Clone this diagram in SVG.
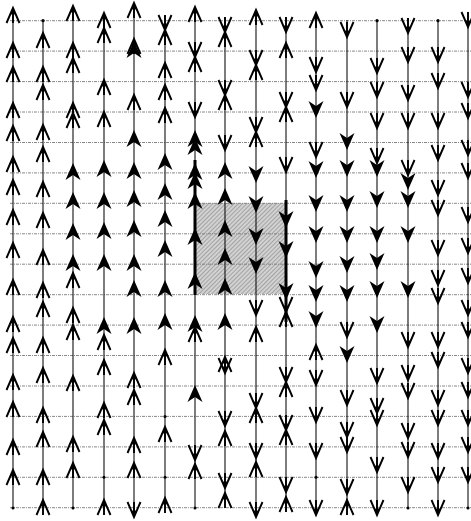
<svg xmlns="http://www.w3.org/2000/svg" xmlns:xlink="http://www.w3.org/1999/xlink" width="471" height="521" viewBox="0 0 471 521">
<style>
.h{stroke:#7a7a7a;stroke-width:0.9;stroke-dasharray:3 1 1 1;fill:none}
.v{stroke:#111;stroke-width:1.1;fill:none}
.t{stroke:#000;stroke-width:3;fill:none}
.d{fill:#000}
</style>
<defs>
<g id="ou"><path d="M-6.5,15 L0,0 L6.5,15 M0,0 L0,15" fill="none" stroke="#000" stroke-width="1.9"/><path d="M0,0 L2.6,7 L0,5.5 L-2.6,7 Z" fill="#000"/></g>
<g id="od"><path d="M-6.5,-15 L0,0 L6.5,-15 M0,0 L0,-15" fill="none" stroke="#000" stroke-width="1.9"/><path d="M0,0 L2.6,-7 L0,-5.5 L-2.6,-7 Z" fill="#000"/></g>
<path id="fu" d="M0,0 L7.5,17 L0,12 L-7.5,17 Z" fill="#000"/>
<path id="fd" d="M0,0 L7.5,-17 L0,-12 L-7.5,-17 Z" fill="#000"/>
<pattern id="hatch" width="3" height="3" patternUnits="userSpaceOnUse" patternTransform="rotate(45)">
<rect width="3" height="3" fill="#d2d2d2"/>
<line x1="0" y1="0" x2="0" y2="3" stroke="#8a8a8a" stroke-width="1.3"/>
</pattern>
</defs>
<rect width="471" height="521" fill="#fff"/>
<rect id="region" x="196" y="203" width="90" height="91" fill="url(#hatch)"/>
<g id="grid">
<line class="h" x1="10" y1="20.7" x2="471" y2="20.7"/>
<line class="h" x1="10" y1="51.1" x2="471" y2="51.1"/>
<line class="h" x1="10" y1="81.6" x2="471" y2="81.6"/>
<line class="h" x1="10" y1="112" x2="471" y2="112"/>
<line class="h" x1="10" y1="142.5" x2="471" y2="142.5"/>
<line class="h" x1="10" y1="172.9" x2="471" y2="172.9"/>
<line class="h" x1="10" y1="203.3" x2="471" y2="203.3"/>
<line class="h" x1="10" y1="233.8" x2="471" y2="233.8"/>
<line class="h" x1="10" y1="264.2" x2="471" y2="264.2"/>
<line class="h" x1="10" y1="294.7" x2="471" y2="294.7"/>
<line class="h" x1="10" y1="325.1" x2="471" y2="325.1"/>
<line class="h" x1="10" y1="355.5" x2="471" y2="355.5"/>
<line class="h" x1="10" y1="386" x2="471" y2="386"/>
<line class="h" x1="10" y1="416.4" x2="471" y2="416.4"/>
<line class="h" x1="10" y1="446.9" x2="471" y2="446.9"/>
<line class="h" x1="10" y1="477.3" x2="471" y2="477.3"/>
<line class="h" x1="10" y1="507.7" x2="471" y2="507.7"/>
</g>
<g id="connectors">
<line class="v" x1="13" y1="8" x2="13" y2="508"/>
<line class="v" x1="43" y1="20" x2="43" y2="508"/>
<line class="v" x1="73" y1="6" x2="73" y2="508"/>
<line class="v" x1="104" y1="13" x2="104" y2="508"/>
<line class="v" x1="134" y1="3" x2="134" y2="517"/>
<line class="v" x1="165" y1="16" x2="165" y2="508"/>
<line class="v" x1="195" y1="7" x2="195" y2="508"/>
<line class="v" x1="225" y1="17" x2="225" y2="505"/>
<line class="v" x1="256" y1="10" x2="256" y2="517"/>
<line class="v" x1="286" y1="17" x2="286" y2="510"/>
<line class="v" x1="316" y1="13" x2="316" y2="515"/>
<line class="v" x1="347" y1="20" x2="347" y2="508"/>
<line class="v" x1="377" y1="20" x2="377" y2="515"/>
<line class="v" x1="408" y1="18" x2="408" y2="508"/>
<line class="v" x1="438" y1="20" x2="438" y2="515"/>
<line class="v" x1="468" y1="12" x2="468" y2="508"/>
<line class="t" x1="195" y1="160" x2="195" y2="295"/>
<line class="t" x1="286" y1="200" x2="286" y2="322"/>
</g>
<g id="col1">
<use href="#ou" x="13" y="8"/><use href="#ou" x="13" y="43"/><use href="#ou" x="13" y="67"/><use href="#ou" x="13" y="103"/><use href="#ou" x="13" y="126"/><use href="#ou" x="13" y="157"/><use href="#ou" x="13" y="180"/><use href="#ou" x="13" y="210"/><use href="#ou" x="13" y="243"/><use href="#ou" x="13" y="280"/><use href="#ou" x="13" y="317"/><use href="#ou" x="13" y="338"/><use href="#ou" x="13" y="375"/><use href="#ou" x="13" y="402"/><use href="#ou" x="13" y="440"/><use href="#ou" x="13" y="470"/>
<circle class="d" cx="13" cy="508" r="1.5"/>
</g>
<g id="col2">
<circle class="d" cx="43" cy="20.7" r="1.6"/>
<use href="#ou" x="43" y="33"/><use href="#ou" x="43" y="67"/><use href="#ou" x="43" y="85"/><use href="#ou" x="43" y="125"/><use href="#ou" x="43" y="147"/><use href="#ou" x="43" y="182"/><use href="#ou" x="43" y="213"/><use href="#ou" x="43" y="250"/><use href="#ou" x="43" y="283"/><use href="#ou" x="43" y="302"/><use href="#ou" x="43" y="338"/><use href="#ou" x="43" y="368"/><use href="#ou" x="43" y="408"/><use href="#ou" x="43" y="432"/><use href="#ou" x="43" y="470"/><use href="#ou" x="43" y="500"/>
</g>
<g id="col3">
<use href="#ou" x="73" y="6"/><use href="#ou" x="73" y="43"/><use href="#ou" x="73" y="58"/><use href="#ou" x="73" y="103"/><use href="#ou" x="73" y="113"/><use href="#fu" x="73" y="163"/><use href="#fu" x="73" y="192"/><use href="#fu" x="73" y="223"/><use href="#fu" x="73" y="254"/><use href="#ou" x="73" y="273"/><use href="#ou" x="73" y="308"/><use href="#ou" x="73" y="325"/><use href="#ou" x="73" y="376"/><use href="#ou" x="73" y="437"/><use href="#ou" x="73" y="463"/>
<circle class="d" cx="73" cy="508" r="1.5"/>
</g>
<g id="col4">
<use href="#ou" x="104" y="13"/><use href="#ou" x="104" y="28"/><use href="#ou" x="104" y="80"/><use href="#ou" x="104" y="112"/><use href="#fu" x="104" y="160"/><use href="#fu" x="104" y="192"/><use href="#fu" x="104" y="222"/><use href="#fu" x="104" y="254"/><use href="#fu" x="104" y="317"/><use href="#ou" x="104" y="335"/><use href="#ou" x="104" y="360"/><use href="#ou" x="104" y="403"/><use href="#ou" x="104" y="420"/><use href="#ou" x="104" y="500"/>
<circle class="d" cx="104" cy="477.3" r="1.5"/>
</g>
<g id="col5">
<use href="#ou" x="134" y="3"/><use href="#ou" x="134" y="39"/><use href="#fu" x="134" y="41"/><use href="#ou" x="134" y="95"/><use href="#fu" x="134" y="130"/><use href="#fu" x="134" y="162"/><use href="#fu" x="134" y="190"/><use href="#fu" x="134" y="220"/><use href="#fu" x="134" y="254"/><use href="#fu" x="134" y="280"/><use href="#fu" x="134" y="317"/><use href="#ou" x="134" y="373"/><use href="#ou" x="134" y="390"/><use href="#ou" x="134" y="438"/><use href="#ou" x="134" y="463"/><use href="#od" x="134" y="517"/>
</g>
<g id="col6">
<use href="#od" x="165" y="30"/><use href="#ou" x="165" y="30"/><use href="#ou" x="165" y="63"/><use href="#ou" x="165" y="85"/><use href="#ou" x="165" y="108"/><use href="#fu" x="165" y="153"/><use href="#fu" x="165" y="183"/><use href="#fu" x="165" y="210"/><use href="#fu" x="165" y="240"/><use href="#fu" x="165" y="280"/><use href="#fu" x="165" y="313"/><use href="#ou" x="165" y="350"/><use href="#ou" x="165" y="427"/><use href="#ou" x="165" y="498"/>
<circle class="d" cx="165" cy="416.4" r="1.5"/><circle class="d" cx="165" cy="477.3" r="1.5"/>
</g>
<g id="col7">
<use href="#ou" x="195" y="7"/><use href="#od" x="195" y="57"/><use href="#ou" x="195" y="57"/><use href="#od" x="195" y="117"/><use href="#fu" x="195" y="130"/><use href="#fu" x="195" y="138"/><use href="#fu" x="195" y="163"/><use href="#fu" x="195" y="172"/><use href="#fu" x="195" y="192"/><use href="#fu" x="195" y="228"/><use href="#fu" x="195" y="272"/><use href="#fu" x="195" y="315"/><use href="#ou" x="195" y="327"/><use href="#fu" x="195" y="385"/><use href="#od" x="195" y="460"/><use href="#ou" x="195" y="464"/>
<circle class="d" cx="195" cy="508" r="1.5"/>
</g>
<g id="col8">
<use href="#od" x="225" y="32"/><use href="#ou" x="225" y="32"/><use href="#od" x="225" y="95"/><use href="#ou" x="225" y="95"/><use href="#od" x="225" y="150"/><use href="#fu" x="225" y="162"/><use href="#fu" x="225" y="188"/><use href="#fu" x="225" y="220"/><use href="#fu" x="225" y="248"/><use href="#fu" x="225" y="278"/><use href="#fu" x="225" y="313"/><use href="#ou" x="225" y="357"/><use href="#od" x="225" y="373"/><use href="#od" x="225" y="426"/><use href="#ou" x="225" y="431"/><use href="#od" x="225" y="488"/><use href="#ou" x="225" y="493"/>
</g>
<g id="col9">
<use href="#ou" x="256" y="10"/><use href="#od" x="256" y="65"/><use href="#ou" x="256" y="65"/><use href="#od" x="256" y="132"/><use href="#ou" x="256" y="132"/><use href="#fd" x="256" y="183"/><use href="#fd" x="256" y="213"/><use href="#fd" x="256" y="245"/><use href="#fd" x="256" y="274"/><use href="#od" x="256" y="315"/><use href="#ou" x="256" y="327"/><use href="#od" x="256" y="408"/><use href="#ou" x="256" y="408"/><use href="#od" x="256" y="458"/><use href="#ou" x="256" y="462"/><use href="#od" x="256" y="517"/>
</g>
<g id="col10">
<use href="#od" x="286" y="32"/><use href="#ou" x="286" y="43"/><use href="#od" x="286" y="107"/><use href="#ou" x="286" y="107"/><use href="#od" x="286" y="172"/><use href="#fd" x="286" y="228"/><use href="#fd" x="286" y="258"/><use href="#fd" x="286" y="300"/><use href="#od" x="286" y="312"/><use href="#ou" x="286" y="312"/><use href="#od" x="286" y="382"/><use href="#ou" x="286" y="382"/><use href="#od" x="286" y="430"/><use href="#ou" x="286" y="430"/><use href="#od" x="286" y="492"/><use href="#ou" x="286" y="497"/>
</g>
<g id="col11">
<use href="#ou" x="316" y="13"/><use href="#od" x="316" y="72"/><use href="#od" x="316" y="90"/><use href="#fd" x="316" y="118"/><use href="#od" x="316" y="157"/><use href="#fd" x="316" y="178"/><use href="#fd" x="316" y="212"/><use href="#fd" x="316" y="243"/><use href="#fd" x="316" y="278"/><use href="#fd" x="316" y="302"/><use href="#fd" x="316" y="328"/><use href="#ou" x="316" y="345"/><use href="#od" x="316" y="385"/><use href="#od" x="316" y="422"/><use href="#od" x="316" y="458"/><use href="#od" x="316" y="515"/>
<circle class="d" cx="316" cy="477.3" r="1.5"/>
</g>
<g id="col12">
<use href="#od" x="347" y="37"/><use href="#od" x="347" y="107"/><use href="#fd" x="347" y="150"/><use href="#fd" x="347" y="177"/><use href="#fd" x="347" y="212"/><use href="#fd" x="347" y="243"/><use href="#fd" x="347" y="273"/><use href="#fd" x="347" y="302"/><use href="#od" x="347" y="337"/><use href="#fd" x="347" y="363"/><use href="#od" x="347" y="405"/><use href="#od" x="347" y="437"/><use href="#od" x="347" y="452"/><use href="#od" x="347" y="494"/><use href="#ou" x="347" y="500"/>
</g>
<g id="col13">
<circle class="d" cx="377" cy="20.7" r="1.6"/>
<use href="#od" x="377" y="73"/><use href="#od" x="377" y="97"/><use href="#od" x="377" y="128"/><use href="#od" x="377" y="163"/><use href="#fd" x="377" y="177"/><use href="#fd" x="377" y="208"/><use href="#fd" x="377" y="243"/><use href="#fd" x="377" y="270"/><use href="#fd" x="377" y="298"/><use href="#fd" x="377" y="333"/><use href="#od" x="377" y="383"/><use href="#od" x="377" y="413"/><use href="#od" x="377" y="425"/><use href="#od" x="377" y="472"/><use href="#od" x="377" y="515"/>
</g>
<g id="col14">
<use href="#od" x="408" y="33"/><use href="#od" x="408" y="62"/><use href="#od" x="408" y="100"/><use href="#od" x="408" y="128"/><use href="#od" x="408" y="175"/><use href="#fd" x="408" y="190"/><use href="#fd" x="408" y="208"/><use href="#fd" x="408" y="243"/><use href="#fd" x="408" y="298"/><use href="#od" x="408" y="347"/><use href="#od" x="408" y="380"/><use href="#od" x="408" y="398"/><use href="#od" x="408" y="438"/><use href="#od" x="408" y="457"/><use href="#od" x="408" y="492"/>
<circle class="d" cx="408" cy="508" r="1.5"/>
</g>
<g id="col15">
<circle class="d" cx="438" cy="20.7" r="1.6"/>
<use href="#od" x="438" y="62"/><use href="#od" x="438" y="88"/><use href="#od" x="438" y="128"/><use href="#od" x="438" y="160"/><use href="#od" x="438" y="195"/><use href="#od" x="438" y="215"/><use href="#od" x="438" y="255"/><use href="#od" x="438" y="285"/><use href="#od" x="438" y="303"/><use href="#od" x="438" y="347"/><use href="#od" x="438" y="367"/><use href="#od" x="438" y="405"/><use href="#od" x="438" y="425"/><use href="#od" x="438" y="458"/><use href="#od" x="438" y="482"/><use href="#od" x="438" y="515"/>
</g>
<g id="col16">
<use href="#od" x="468" y="27"/><use href="#od" x="468" y="97"/><use href="#od" x="468" y="118"/><use href="#od" x="468" y="155"/><use href="#od" x="468" y="178"/><use href="#od" x="468" y="222"/><use href="#od" x="468" y="253"/><use href="#od" x="468" y="283"/><use href="#od" x="468" y="315"/><use href="#od" x="468" y="337"/><use href="#od" x="468" y="373"/><use href="#od" x="468" y="397"/><use href="#od" x="468" y="425"/><use href="#od" x="468" y="452"/><use href="#od" x="468" y="482"/>
<circle class="d" cx="468" cy="508" r="1.5"/>
</g>
</svg>
